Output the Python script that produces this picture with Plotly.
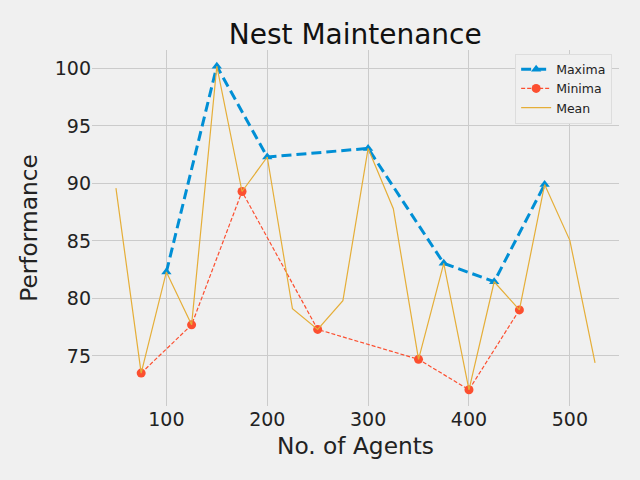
import plotly.graph_objects as go

mean_x = [50, 75, 100, 125, 150, 175, 200, 225, 250, 275, 300, 325, 350, 375, 400, 425, 450, 475, 500, 525]
mean_y = [89.6, 73.5, 82.3, 77.7, 100.2, 89.3, 92.3, 79.1, 77.3, 79.8, 93.05, 87.8, 74.7, 83.05, 72.05, 81.45, 79.0, 89.9, 85.05, 74.4]
max_x = [100, 150, 200, 300, 375, 425, 475]
max_y = [82.3, 100.2, 92.3, 93.05, 83.05, 81.45, 89.9]
min_x = [75, 125, 175, 250, 350, 400, 450]
min_y = [73.5, 77.7, 89.3, 77.3, 74.7, 72.05, 79.0]

x_ticks = [100, 200, 300, 400, 500]
y_ticks = [75, 80, 85, 90, 95, 100]

fig = go.Figure()
fig.add_trace(go.Scatter(x=max_x, y=max_y, mode="lines+markers", name="Maxima",
                         line=dict(color="#008fd5", width=3, dash="10px,5px"),
                         marker=dict(symbol="triangle-up", size=9, color="#008fd5")))
fig.add_trace(go.Scatter(x=min_x, y=min_y, mode="lines+markers", name="Minima",
                         line=dict(color="#fc4f30", width=1.2, dash="4px,2px"),
                         marker=dict(symbol="circle", size=9, color="#fc4f30")))
fig.add_trace(go.Scatter(x=mean_x, y=mean_y, mode="lines", name="Mean",
                         line=dict(color="#e5ae38", width=1.2)))

font = "DejaVu Sans"
fig.update_layout(
    width=640, height=480,
    paper_bgcolor="#f0f0f0", plot_bgcolor="#f0f0f0",
    margin=dict(l=91.5, r=21, t=49.5, b=74, autoexpand=False),
    font=dict(family=font, color="#222222", size=19),
    title=dict(text="Nest Maintenance", x=(91.5 + 619) / 2 / 640, xanchor="center",
               y=1 - 34 / 480, yanchor="middle", font=dict(size=28, color="#111111")),
    showlegend=True,
    legend=dict(x=0.987, y=0.99, xanchor="right", yanchor="top",
                bgcolor="#f0f0f0", bordercolor="#dddddd", borderwidth=1,
                font=dict(size=12.5, color="#222222"), tracegroupgap=0),
)
fig.update_xaxes(range=[26.25, 548.75], tickvals=x_ticks, showgrid=True, gridcolor="#cbcbcb",
                 gridwidth=1, zeroline=False, showline=False, ticks="",
                 title=dict(text="No. of Agents", font=dict(size=23.3), standoff=8),
                 tickfont=dict(size=19))
fig.update_yaxes(range=[70.64, 101.61], tickvals=y_ticks, showgrid=True, gridcolor="#cbcbcb",
                 gridwidth=1, zeroline=False, showline=False, ticks="",
                 title=dict(text="Performance", font=dict(size=23.3), standoff=10),
                 tickfont=dict(size=19))

fig.write_html("out.html", config={"displayModeBar": False},
               post_script="document.body.style.margin='0';document.body.style.overflow='hidden';document.body.style.background='#f0f0f0';")
